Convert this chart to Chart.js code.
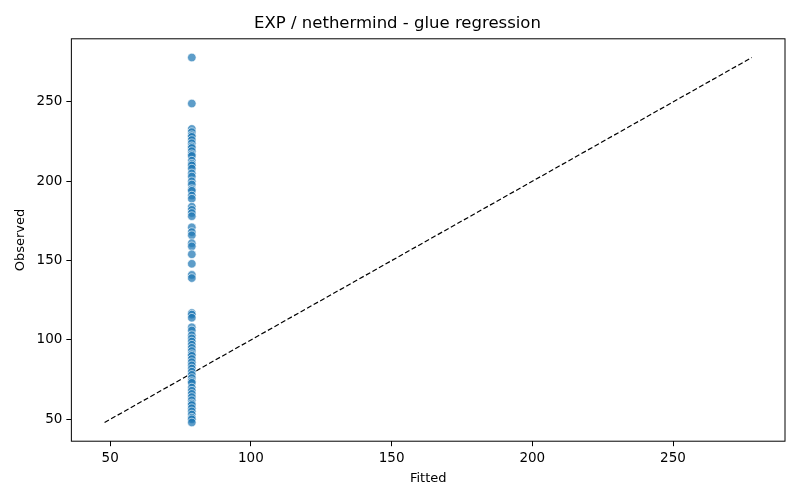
<!DOCTYPE html>
<html>
<head>
<meta charset="utf-8">
<script src="https://cdn.jsdelivr.net/npm/chart.js@4"></script>
<style>
  html, body { margin: 0; padding: 0; background: #fff; }
  #wrap { width: 800px; height: 500px; }
</style>
</head>
<body>
<div id="wrap"><canvas id="chart"></canvas></div>
<script>
// data
const observed = [
  278, 249, 233, 231, 229, 228, 226, 224, 222, 221, 219, 217, 216, 213, 211,
  210, 208, 205, 203, 200, 198, 195, 194, 191, 189, 184, 182, 180, 178, 171,
  168, 166, 161, 159, 154, 148, 141, 139, 117, 116, 114, 108, 106, 103, 101,
  99, 97, 95, 93, 91, 90, 88, 86, 84, 82, 80, 78, 76, 74, 73, 70, 68, 66, 64,
  62, 60, 59, 57, 55, 53, 51, 50, 48,
];
const fittedValue = 79;
const fitted = observed.map(() => fittedValue);
const lineX = [48, 278];
const lineY = [48, 278];
const xTicks = [50, 100, 150, 200, 250];
const yTicks = [50, 100, 150, 200, 250];

const FONT = "'DejaVu Sans', sans-serif";

// matplotlib style box around the plot area
const boxPlugin = {
  id: 'box',
  afterDraw(chart) {
    const { ctx, chartArea: a } = chart;
    ctx.save();
    ctx.strokeStyle = '#000';
    ctx.lineWidth = 1;
    ctx.strokeRect(a.left, a.top, a.right - a.left, a.bottom - a.top);
    ctx.restore();
  },
};

const axis = (ticks, title, titlePad) => ({
  type: 'linear',
  min: 36.2,
  max: 289.8,
  afterBuildTicks: (s) => { s.ticks = ticks.map((v) => ({ value: v })); },
  grid: { drawOnChartArea: false, drawTicks: true, tickLength: 5, color: '#000', tickColor: '#000' },
  border: { display: false },
  ticks: { color: '#000', font: { family: FONT, size: 13.5 }, padding: 4 },
  title: { display: true, text: title, color: '#000', font: { family: FONT, size: 13 }, padding: titlePad },
});

new Chart(document.getElementById('chart').getContext('2d'), {
  type: 'scatter',
  data: {
    datasets: [
      {
        label: 'obs',
        data: observed.map((y, i) => ({ x: fitted[i], y })),
        backgroundColor: 'rgba(31,119,180,0.72)',
        borderColor: 'rgba(255,255,255,0.8)',
        borderWidth: 0.8,
        pointRadius: 4.3,
      },
      {
        label: 'ref',
        data: lineX.map((x, i) => ({ x, y: lineY[i] })),
        showLine: true,
        borderColor: '#000',
        borderWidth: 1.2,
        borderDash: [5, 2.5],
        pointRadius: 0,
      },
    ],
  },
  options: {
    responsive: true,
    maintainAspectRatio: false,
    animation: false,
    layout: { padding: { left: 10, right: 15, top: 3, bottom: 6 } },
    plugins: {
      legend: { display: false },
      tooltip: { enabled: false },
      title: {
        display: true,
        text: 'EXP / nethermind - glue regression',
        color: '#000',
        font: { family: FONT, size: 16.5, weight: 'normal' },
        padding: { top: 11, bottom: 5 },
      },
    },
    scales: {
      x: axis(xTicks, 'Fitted', { top: 0, bottom: 8 }),
      y: axis(yTicks, 'Observed', { top: 3, bottom: 4 }),
    },
  },
  plugins: [boxPlugin],
});
</script>
</body>
</html>
